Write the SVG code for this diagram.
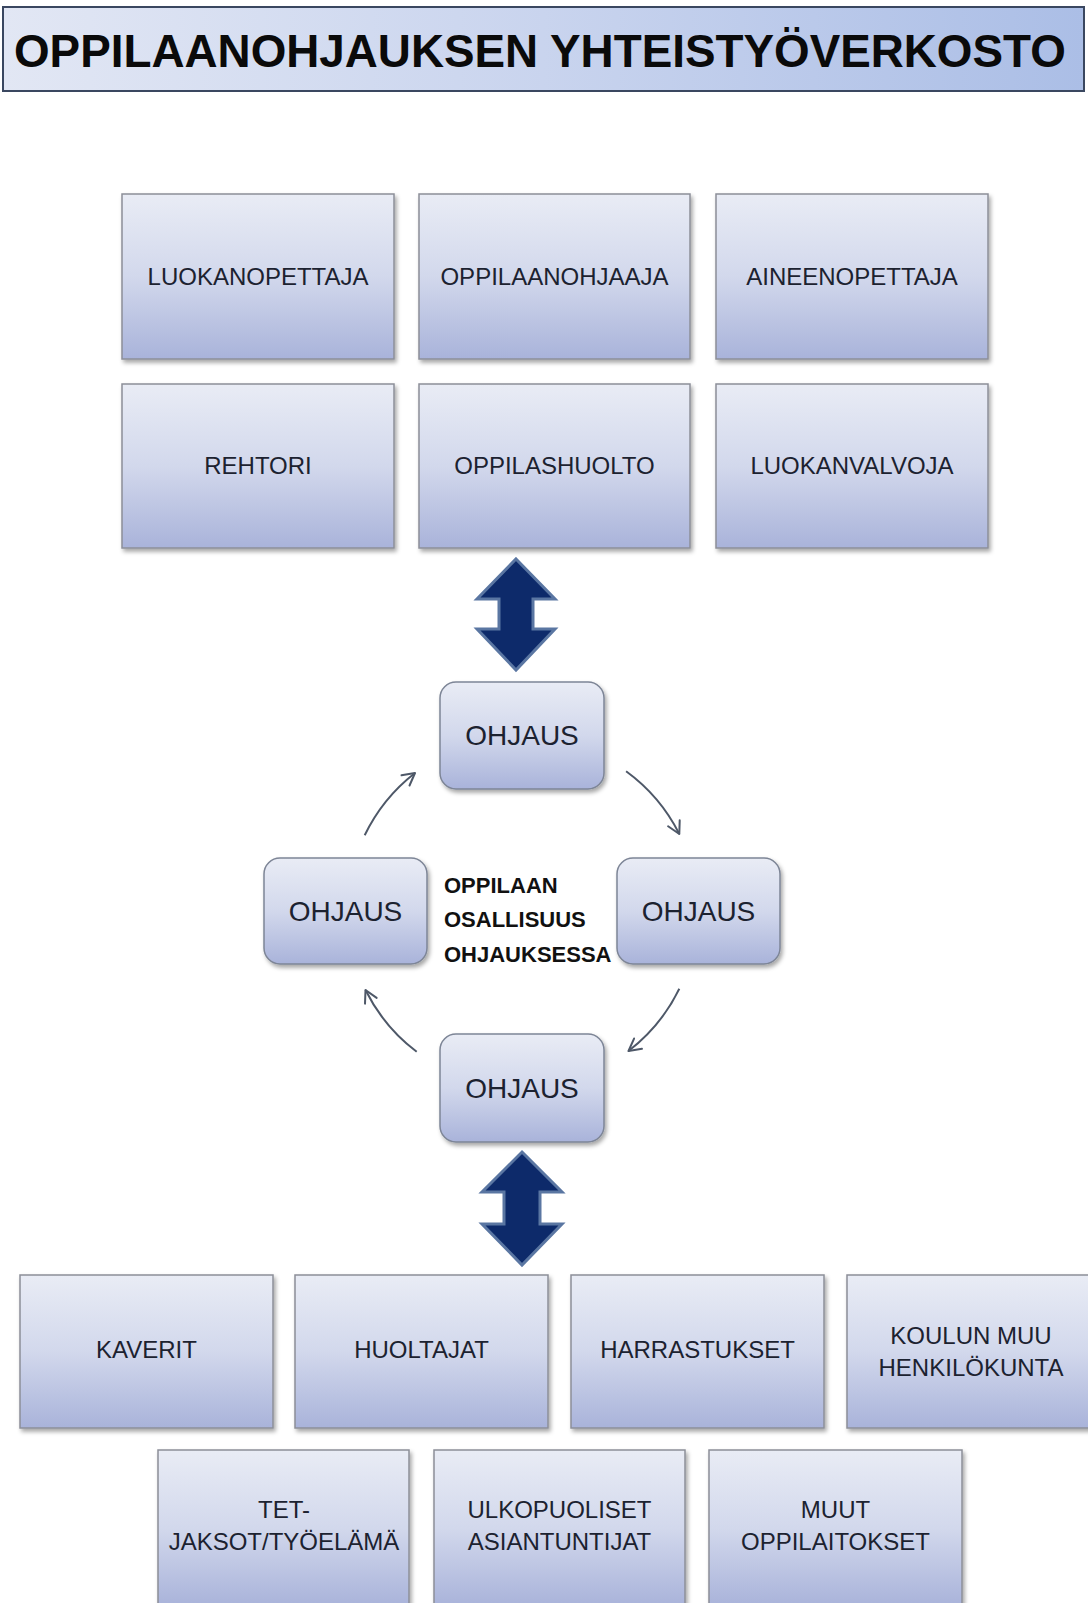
<svg xmlns="http://www.w3.org/2000/svg" width="1088" height="1603" viewBox="0 0 1088 1603">
<defs>
<linearGradient id="gBox" x1="0" y1="0" x2="0" y2="1">
<stop offset="0" stop-color="#e9ecf5"/>
<stop offset="0.5" stop-color="#d2d8ec"/>
<stop offset="1" stop-color="#a9b3da"/>
</linearGradient>
<linearGradient id="gTitle" x1="0" y1="0" x2="1" y2="0">
<stop offset="0" stop-color="#e2e7f4"/>
<stop offset="0.5" stop-color="#c9d4ee"/>
<stop offset="1" stop-color="#abbee6"/>
</linearGradient>
<filter id="sh" x="-10%" y="-10%" width="130%" height="130%">
<feDropShadow dx="2" dy="3" stdDeviation="2" flood-color="#000" flood-opacity="0.35"/>
</filter>
<marker id="ah" markerWidth="16" markerHeight="16" refX="14" refY="8" orient="auto" markerUnits="userSpaceOnUse">
<path d="M2,1.5 L14,8 L2,14.5" fill="none" stroke="#4e5868" stroke-width="2" stroke-linecap="round" stroke-linejoin="round"/>
</marker>
</defs>
<style>
.box{fill:url(#gBox);stroke:#8c8f98;stroke-width:1.5;filter:url(#sh)}
.rbox{fill:url(#gBox);stroke:#7d8596;stroke-width:1.5;filter:url(#sh)}
.lbl{font-family:"Liberation Sans",Arial,sans-serif;font-size:24px;fill:#1c2230;text-anchor:middle}
.ohj{font-family:"Liberation Sans",Arial,sans-serif;font-size:28px;fill:#1c2230;text-anchor:middle}
.ctr{font-family:"Liberation Sans",Arial,sans-serif;font-size:22px;font-weight:bold;fill:#111}
.darr{fill:#0d2a6a;stroke:#5a76a2;stroke-width:3;stroke-linejoin:miter}
.carc{fill:none;stroke:#4e5868;stroke-width:2;marker-end:url(#ah)}
</style>
<rect x="0" y="0" width="1088" height="1603" fill="#ffffff"/>

<g id="title">
<rect x="3" y="7" width="1081" height="84" fill="url(#gTitle)" stroke="#3a4760" stroke-width="2"/>
<text x="14" y="67" font-family="'Liberation Sans',Arial,sans-serif" font-size="45.8" font-weight="bold" fill="#0a0a0a">OPPILAANOHJAUKSEN YHTEISTYÖVERKOSTO</text>
</g>

<g id="n-luokanopettaja"><rect class="box" x="122" y="194" width="272" height="165"/><text class="lbl" x="258" y="285">LUOKANOPETTAJA</text></g>
<g id="n-oppilaanohjaaja"><rect class="box" x="419" y="194" width="271" height="165"/><text class="lbl" x="554.5" y="285">OPPILAANOHJAAJA</text></g>
<g id="n-aineenopettaja"><rect class="box" x="716" y="194" width="272" height="165"/><text class="lbl" x="852" y="285">AINEENOPETTAJA</text></g>
<g id="n-rehtori"><rect class="box" x="122" y="384" width="272" height="164"/><text class="lbl" x="258" y="474">REHTORI</text></g>
<g id="n-oppilashuolto"><rect class="box" x="419" y="384" width="271" height="164"/><text class="lbl" x="554.5" y="474">OPPILASHUOLTO</text></g>
<g id="n-luokanvalvoja"><rect class="box" x="716" y="384" width="272" height="164"/><text class="lbl" x="852" y="474">LUOKANVALVOJA</text></g>

<g id="connectors">
<path class="darr" d="M516,559 L555,599 L533,599 L533,629 L555,629 L516,670 L477,629 L499,629 L499,599 L477,599 Z"/>
<path class="darr" d="M522,1152 L562,1192 L540,1192 L540,1224 L562,1224 L522,1265 L482,1224 L504,1224 L504,1192 L482,1192 Z"/>
<path class="carc" d="M364.7,835.3 A175,175 0 0 1 415,773"/>
<path class="carc" d="M626.1,771.3 A175,175 0 0 1 679.3,834"/>
<path class="carc" d="M679.3,988.7 A175,175 0 0 1 628.5,1051"/>
<path class="carc" d="M416.7,1051.8 A175,175 0 0 1 365.5,990"/>
</g>

<g id="n-ohjaus-top"><rect class="rbox" x="440" y="682" width="164" height="107" rx="16" ry="16"/><text class="ohj" x="522" y="745">OHJAUS</text></g>
<g id="n-ohjaus-left"><rect class="rbox" x="264" y="858" width="163" height="106" rx="16" ry="16"/><text class="ohj" x="345.5" y="921">OHJAUS</text></g>
<g id="n-ohjaus-right"><rect class="rbox" x="617" y="858" width="163" height="106" rx="16" ry="16"/><text class="ohj" x="698.5" y="921">OHJAUS</text></g>
<g id="n-ohjaus-bottom"><rect class="rbox" x="440" y="1034" width="164" height="108" rx="16" ry="16"/><text class="ohj" x="522" y="1098">OHJAUS</text></g>

<g id="n-center">
<text class="ctr" x="444" y="893">OPPILAAN</text>
<text class="ctr" x="444" y="927">OSALLISUUS</text>
<text class="ctr" x="444" y="962">OHJAUKSESSA</text>
</g>

<g id="n-kaverit"><rect class="box" x="20" y="1275" width="253" height="153"/><text class="lbl" x="146.5" y="1358">KAVERIT</text></g>
<g id="n-huoltajat"><rect class="box" x="295" y="1275" width="253" height="153"/><text class="lbl" x="421.5" y="1358">HUOLTAJAT</text></g>
<g id="n-harrastukset"><rect class="box" x="571" y="1275" width="253" height="153"/><text class="lbl" x="697.5" y="1358">HARRASTUKSET</text></g>
<g id="n-koulun"><rect class="box" x="847" y="1275" width="250" height="153"/><text class="lbl" x="971" y="1344">KOULUN MUU</text><text class="lbl" x="971" y="1376">HENKILÖKUNTA</text></g>
<g id="n-tet"><rect class="box" x="158" y="1450" width="251" height="156"/><text class="lbl" x="284" y="1518">TET-</text><text class="lbl" x="284" y="1550">JAKSOT/TYÖELÄMÄ</text></g>
<g id="n-ulkopuoliset"><rect class="box" x="434" y="1450" width="251" height="156"/><text class="lbl" x="559.5" y="1518">ULKOPUOLISET</text><text class="lbl" x="559.5" y="1550">ASIANTUNTIJAT</text></g>
<g id="n-muut"><rect class="box" x="709" y="1450" width="253" height="156"/><text class="lbl" x="835.5" y="1518">MUUT</text><text class="lbl" x="835.5" y="1550">OPPILAITOKSET</text></g>
</svg>
